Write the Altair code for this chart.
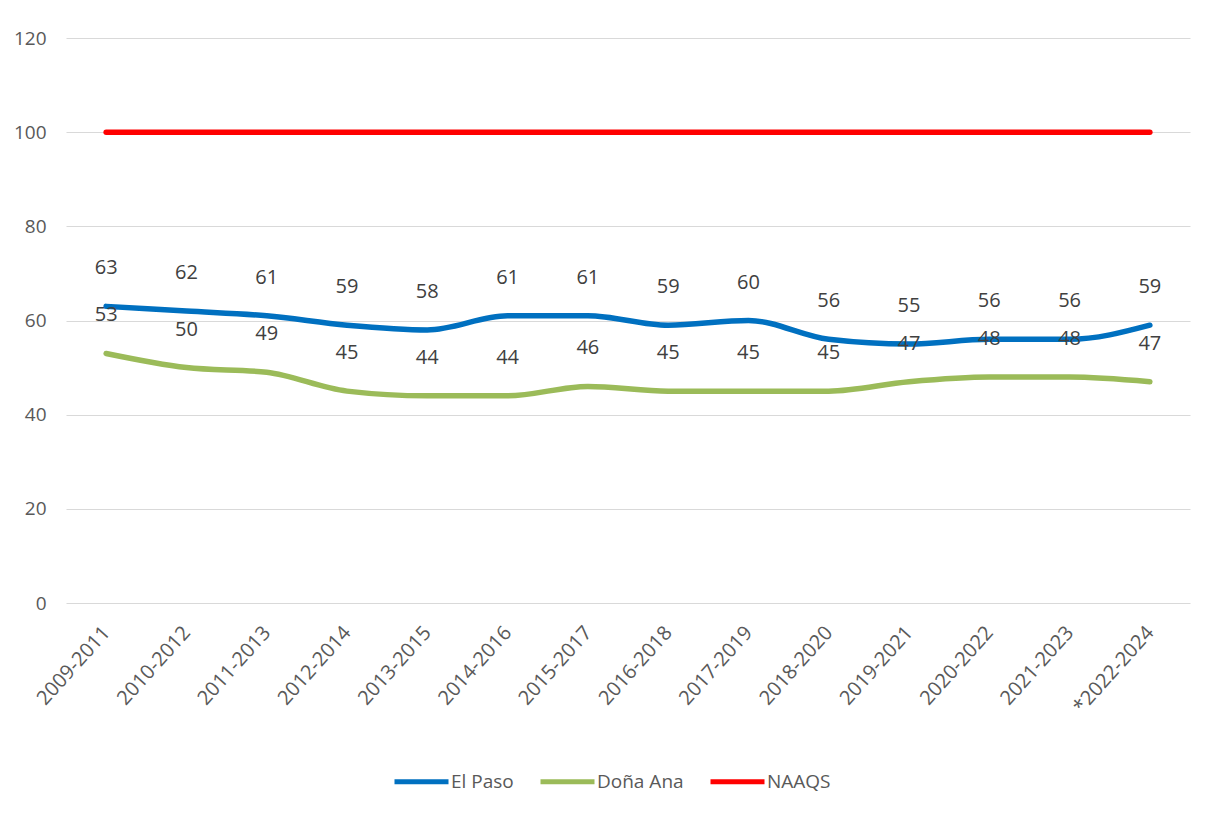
import altair as alt
import pandas as pd

periods = ["2009-2011", "2010-2012", "2011-2013", "2012-2014", "2013-2015", "2014-2016",
           "2015-2017", "2016-2018", "2017-2019", "2018-2020", "2019-2021", "2020-2022",
           "2021-2023", "*2022-2024"]
el_paso = [63, 62, 61, 59, 58, 61, 61, 59, 60, 56, 55, 56, 56, 59]
dona_ana = [53, 50, 49, 45, 44, 44, 46, 45, 45, 45, 47, 48, 48, 47]
naaqs = [100] * 14

series_names = ["El Paso", "Doña Ana", "NAAQS"]
series_colors = ["#0070C0", "#9BBB59", "#FF0000"]

rows = []
for name, vals in zip(series_names, [el_paso, dona_ana, naaqs]):
    for i, (p, v) in enumerate(zip(periods, vals)):
        rows.append({"period": p, "value": v, "series": name, "order": i})
df = pd.DataFrame(rows)

FONT = "Open Sans"

x_enc = alt.X("period:N", sort=periods, title=None,
              scale=alt.Scale(paddingInner=0, paddingOuter=0),
              axis=alt.Axis(labelAngle=-48, labelAlign="right", labelBaseline="middle",
                            labelPadding=26, ticks=False, domain=False, grid=False,
                            labelFontSize=20, labelColor="#595959", labelFont=FONT))
y_enc = alt.Y("value:Q", title=None,
              scale=alt.Scale(domain=[0, 120], nice=False),
              axis=alt.Axis(values=[0, 20, 40, 60, 80, 100, 120], ticks=False, domain=False,
                            labelPadding=20, labelFontSize=19, labelColor="#595959",
                            labelFont=FONT, gridColor="#D9D9D9", gridWidth=1))

lines = alt.Chart(df).mark_line(strokeWidth=5.5, interpolate="monotone", strokeCap="round").encode(
    x=x_enc, y=y_enc,
    color=alt.Color("series:N", sort=series_names,
                    scale=alt.Scale(domain=series_names, range=series_colors),
                    legend=alt.Legend(title=None, orient="none", direction="horizontal",
                                      legendX=326, legendY=714, symbolType="stroke",
                                      symbolSize=2916, symbolStrokeWidth=5,
                                      labelFontSize=19, labelColor="#595959", labelFont=FONT,
                                      labelOffset=0, columnPadding=16)),
    order="order:Q",
)

labels = alt.Chart(df).transform_filter(alt.datum.series != "NAAQS").mark_text(
    dy=-38, fontSize=20, color="#404040", font=FONT
).encode(
    x=alt.X("period:N", sort=periods),
    y=alt.Y("value:Q"),
    text="value:Q",
)

chart = alt.layer(lines, labels).properties(
    width=1124, height=565,
    padding={"left": 58, "top": 30, "right": 31, "bottom": 210},
    autosize="none",
).configure(background="white").configure_view(stroke=None)

chart.save("out.html", embed_options={"renderer": "svg", "actions": False})
